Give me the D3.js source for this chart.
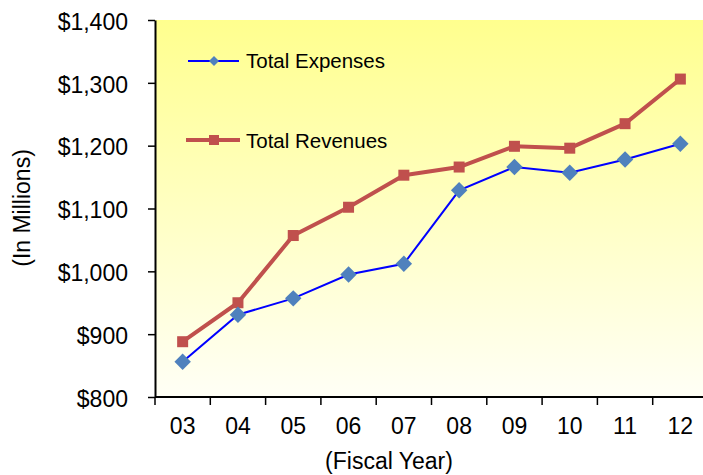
<!DOCTYPE html>
<html>
<head>
<meta charset="utf-8">
<script src="https://cdn.jsdelivr.net/npm/d3@7"></script>
<style>
  body { margin: 0; background: #fff; }
  svg { display: block; font-family: "Liberation Sans", Arial, sans-serif; }
</style>
</head>
<body>
<svg id="chart" width="703" height="475"></svg>
<script>
// Fiscal years and totals (in millions of dollars)
const years = ["03", "04", "05", "06", "07", "08", "09", "10", "11", "12"];
const expenses = [856, 931, 957, 995, 1012, 1129, 1166, 1157, 1178, 1203];
const revenues = [888, 950, 1057, 1102, 1153, 1166, 1199, 1196, 1235, 1306];
const yTicks = [800, 900, 1000, 1100, 1200, 1300, 1400];

(function draw() {
const svg = d3.select("#chart");
const plotLeft = 155, plotTop = 20, plotRight = 708, plotBottom = 397;
const axisFont = 23, legendFont = 20.5;

const x = d3.scaleBand().domain(years).range([plotLeft, plotRight]).paddingInner(0).paddingOuter(0);
const y = d3.scaleLinear().domain([800, 1400]).range([plotBottom, plotTop]);

// Plot background: yellow fading to near-white
const defs = svg.append("defs");
const grad = defs.append("linearGradient").attr("id", "bg").attr("x1", 0).attr("y1", 0).attr("x2", 0).attr("y2", 1);
grad.append("stop").attr("offset", "0%").attr("stop-color", "#ffff8e");
grad.append("stop").attr("offset", "100%").attr("stop-color", "#fffff6");
svg.append("rect").attr("x", plotLeft).attr("y", plotTop).attr("width", plotRight - plotLeft).attr("height", plotBottom - plotTop).attr("fill", "url(#bg)");

const fmt = d => "$" + d3.format(",")(d);

// Y axis
const yAxis = svg.append("g").attr("transform", `translate(${plotLeft},0)`)
  .call(d3.axisLeft(y).tickValues(yTicks).tickFormat(fmt).tickSize(7).tickSizeOuter(0).tickPadding(20));
yAxis.select(".domain").attr("stroke", "#000").attr("stroke-width", 2);
yAxis.selectAll(".tick line").attr("stroke", "#000").attr("stroke-width", 1.5);
yAxis.selectAll(".tick text").attr("font-size", axisFont).attr("fill", "#000").attr("dy", "0.4em")
  .attr("font-family", "Liberation Sans, Arial, sans-serif");

// X axis with ticks at category boundaries
const xAxisG = svg.append("g").attr("transform", `translate(0,${plotBottom})`);
xAxisG.append("line").attr("x1", plotLeft).attr("x2", plotRight).attr("y1", 0).attr("y2", 0).attr("stroke", "#000").attr("stroke-width", 2);
xAxisG.selectAll(".bt").data(years).join("line").attr("class", "bt")
  .attr("x1", d => x(d)).attr("x2", d => x(d)).attr("y1", 0).attr("y2", 8)
  .attr("stroke", "#000").attr("stroke-width", 1.5);
xAxisG.selectAll(".lbl").data(years).join("text").attr("class", "lbl")
  .attr("x", d => x(d) + x.bandwidth() / 2).attr("y", 37)
  .attr("text-anchor", "middle").attr("font-size", axisFont).attr("fill", "#000").text(d => d);

const cx = d => x(d) + x.bandwidth() / 2;

// Revenue series
const revLine = d3.line().x((d, i) => cx(years[i])).y(d => y(d));
svg.append("path").datum(revenues).attr("d", revLine).attr("fill", "none")
  .attr("stroke", "#c0504d").attr("stroke-width", 4).attr("stroke-linejoin", "round");
svg.selectAll(".rev").data(revenues).join("rect").attr("class", "rev")
  .attr("x", (d, i) => cx(years[i]) - 5.5).attr("y", d => y(d) - 5.5)
  .attr("width", 11).attr("height", 11).attr("fill", "#c0504d");

// Expense series
const expLine = d3.line().x((d, i) => cx(years[i])).y(d => y(d));
svg.append("path").datum(expenses).attr("d", expLine).attr("fill", "none")
  .attr("stroke", "#0000ff").attr("stroke-width", 2);
const diamond = d3.symbol().type(d3.symbolSquare).size(135);
svg.selectAll(".exp").data(expenses).join("path").attr("class", "exp")
  .attr("d", diamond)
  .attr("transform", (d, i) => `translate(${cx(years[i])},${y(d)}) rotate(45)`)
  .attr("fill", "#4f81bd");

// Legend
const lg = svg.append("g");
lg.append("line").attr("x1", 188).attr("x2", 239).attr("y1", 61).attr("y2", 61).attr("stroke", "#0000ff").attr("stroke-width", 2);
lg.append("path").attr("d", d3.symbol().type(d3.symbolSquare).size(50)).attr("transform", "translate(214,61) rotate(45)").attr("fill", "#4f81bd");
lg.append("text").attr("x", 246).attr("y", 68).attr("font-size", legendFont).attr("fill", "#000").text("Total Expenses");
lg.append("line").attr("x1", 186).attr("x2", 240).attr("y1", 140).attr("y2", 140).attr("stroke", "#c0504d").attr("stroke-width", 4);
lg.append("rect").attr("x", 209).attr("y", 135).attr("width", 10).attr("height", 10).attr("fill", "#c0504d");
lg.append("text").attr("x", 246).attr("y", 147.5).attr("font-size", legendFont).attr("fill", "#000").text("Total Revenues");

// Axis titles
svg.append("text").attr("transform", "translate(30,208) rotate(-90)").attr("text-anchor", "middle")
  .attr("font-size", axisFont).attr("fill", "#000").text("(In Millions)");
svg.append("text").attr("x", 389).attr("y", 469).attr("text-anchor", "middle")
  .attr("font-size", axisFont).attr("fill", "#000").text("(Fiscal Year)");
})();
</script>
</body>
</html>
